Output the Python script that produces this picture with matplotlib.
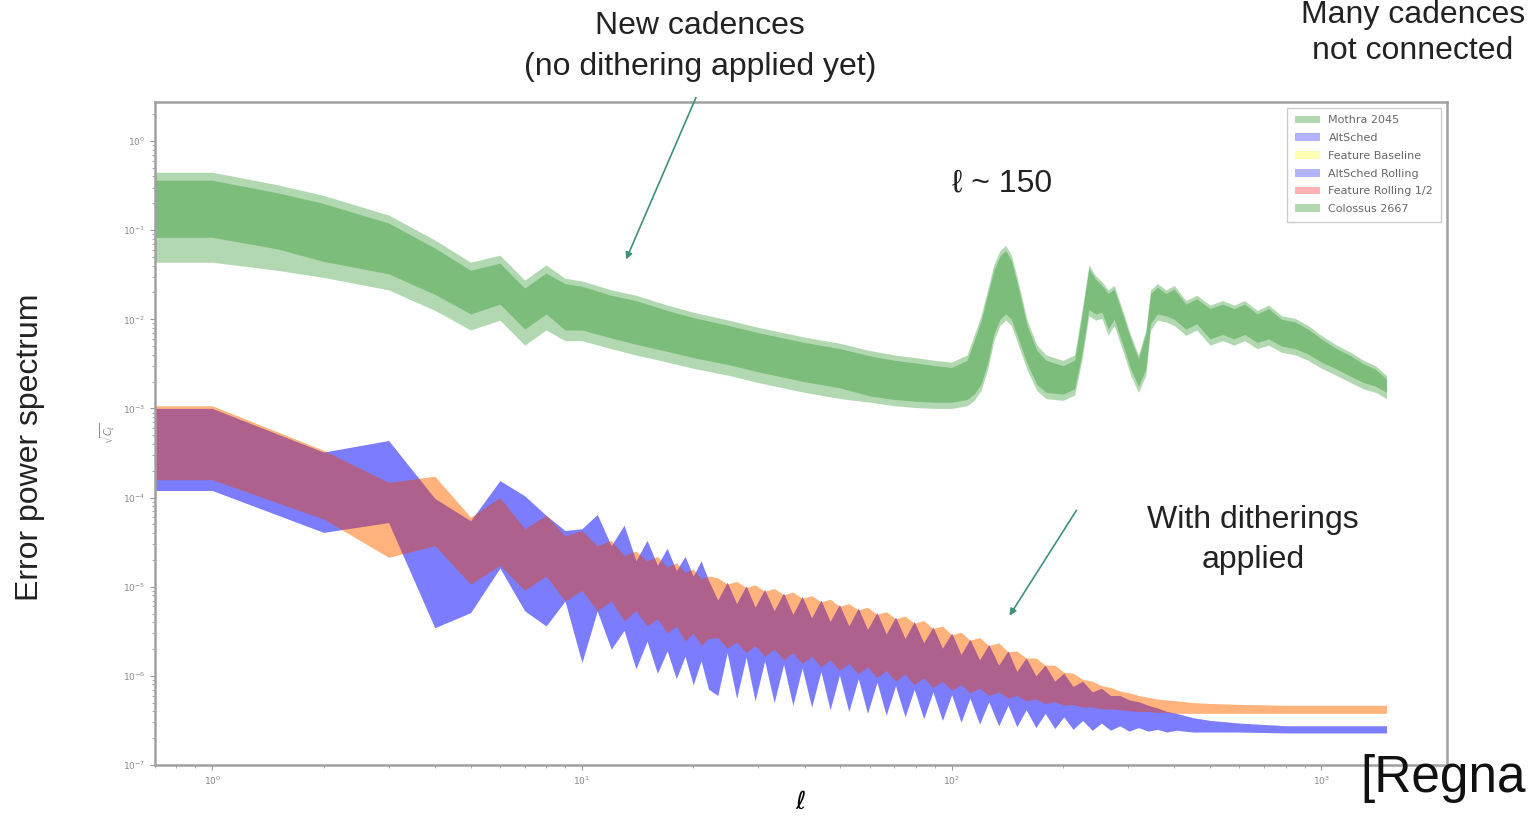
import numpy as np
import matplotlib
matplotlib.use("Agg")
import matplotlib.pyplot as plt
from matplotlib.ticker import LogLocator, NullFormatter

SLIDE_FONT = ["Liberation Sans", "DejaVu Sans"]

# ---- upper (green) bands, values given as log10 of the error ----
ell_g = [0.7, 1, 1.5, 2, 3, 4, 5, 6, 7, 8, 9, 10, 12, 14, 17, 20, 25, 30, 40, 50,
         60, 70, 80, 90, 100, 110, 115, 120, 125, 130, 135, 140, 145, 150, 160, 170, 180, 200, 215, 225,
         235, 245, 255, 265, 275, 290, 305, 320, 335, 345, 360, 380, 400, 430, 460, 500, 540, 580, 620, 670,
         720, 780, 850, 920, 1000, 1100, 1200, 1300, 1400, 1500]

mothra_hi = [-0.35, -0.35, -0.49, -0.61, -0.83, -1.11, -1.36, -1.28, -1.56, -1.39,
             -1.54, -1.57, -1.67, -1.73, -1.84, -1.92, -2.01, -2.09, -2.20, -2.27,
             -2.35, -2.40, -2.43, -2.46, -2.48, -2.40, -2.18, -1.96, -1.67, -1.39,
             -1.23, -1.17, -1.28, -1.51, -2.01, -2.29, -2.40, -2.46, -2.40, -1.90,
             -1.39, -1.51, -1.58, -1.67, -1.62, -1.90, -2.18, -2.40, -2.12, -1.67,
             -1.60, -1.67, -1.62, -1.79, -1.73, -1.84, -1.79, -1.84, -1.79, -1.90,
             -1.84, -1.96, -1.99, -2.07, -2.18, -2.29, -2.37, -2.46, -2.52, -2.63]
mothra_lo = [-1.08, -1.08, -1.21, -1.35, -1.49, -1.72, -1.94, -1.83, -2.11, -1.94,
             -2.12, -2.12, -2.21, -2.28, -2.36, -2.43, -2.51, -2.59, -2.70, -2.77,
             -2.86, -2.90, -2.92, -2.93, -2.93, -2.90, -2.84, -2.73, -2.50, -2.17,
             -2.00, -1.94, -2.00, -2.17, -2.50, -2.73, -2.82, -2.84, -2.78, -2.39,
             -1.89, -1.94, -1.92, -2.11, -2.00, -2.28, -2.56, -2.75, -2.56, -2.05,
             -1.94, -1.96, -2.00, -2.11, -2.05, -2.22, -2.17, -2.22, -2.17, -2.26,
             -2.22, -2.30, -2.33, -2.39, -2.48, -2.56, -2.64, -2.71, -2.75, -2.82]
colossus_hi = [-0.44, -0.44, -0.58, -0.70, -0.92, -1.20, -1.45, -1.37, -1.65, -1.48,
               -1.60, -1.63, -1.73, -1.79, -1.90, -1.98, -2.07, -2.15, -2.26, -2.33,
               -2.41, -2.46, -2.49, -2.52, -2.54, -2.46, -2.24, -2.02, -1.73, -1.45,
               -1.29, -1.23, -1.34, -1.57, -2.07, -2.35, -2.46, -2.52, -2.46, -1.96,
               -1.43, -1.55, -1.62, -1.71, -1.66, -1.94, -2.22, -2.44, -2.16, -1.71,
               -1.64, -1.71, -1.66, -1.83, -1.77, -1.88, -1.83, -1.88, -1.83, -1.94,
               -1.88, -2.00, -2.03, -2.11, -2.22, -2.33, -2.41, -2.50, -2.56, -2.67]
colossus_lo = [-1.36, -1.36, -1.45, -1.53, -1.67, -1.90, -2.12, -2.01, -2.29, -2.12,
               -2.24, -2.24, -2.33, -2.40, -2.48, -2.55, -2.63, -2.71, -2.82, -2.89,
               -2.93, -2.97, -2.99, -3.00, -3.00, -2.97, -2.91, -2.80, -2.57, -2.24,
               -2.07, -2.01, -2.07, -2.24, -2.57, -2.80, -2.89, -2.91, -2.85, -2.46,
               -1.96, -2.01, -1.99, -2.18, -2.07, -2.35, -2.63, -2.82, -2.63, -2.12,
               -2.01, -2.03, -2.07, -2.18, -2.12, -2.29, -2.24, -2.29, -2.24, -2.33,
               -2.29, -2.37, -2.40, -2.46, -2.55, -2.63, -2.71, -2.78, -2.82, -2.89]

# ---- lower bands (dithered cadences), log10 values ----
ell_l = [0.7, 1, 2, 3, 4, 5, 6, 7, 8, 9, 10, 11, 12, 13, 14, 15, 16, 17, 18, 19, 20, 21, 22,
         23.3, 24.7, 26.2, 27.8, 29.4, 31.2, 33.1, 35.1, 37.2, 39.4,
         41.8, 44.3, 46.9, 49.7, 52.7, 55.9, 59.2, 62.8, 66.5, 70.5,
         74.8, 79.2, 84, 89, 94.4, 100, 106, 112, 119, 126,
         134, 142, 150, 159, 169, 179, 190, 201, 213, 226,
         240, 254, 269, 285, 302, 320, 340, 360, 382, 405,
         450, 500, 600, 800, 1000, 1200, 1500]

feat_hi = [-2.97, -2.97, -3.47, -3.83, -3.76, -4.22, -4.00, -4.35, -4.20, -4.43, -4.37, -4.54,
           -4.48, -4.65, -4.60, -4.71, -4.66, -4.78, -4.73, -4.84, -4.80, -4.91, -4.88,
           -4.90, -4.97, -4.94, -5.01, -4.98, -5.05, -5.02, -5.09, -5.06, -5.13,
           -5.10, -5.17, -5.14, -5.22, -5.19, -5.26, -5.23, -5.31, -5.28, -5.36,
           -5.33, -5.41, -5.38, -5.47, -5.44, -5.54, -5.51, -5.60, -5.57, -5.66,
           -5.63, -5.73, -5.72, -5.80, -5.80, -5.88, -5.88, -5.96, -5.97, -6.04,
           -6.06, -6.11, -6.13, -6.17, -6.19, -6.22, -6.24, -6.26, -6.27, -6.28,
           -6.30, -6.31, -6.32, -6.33, -6.33, -6.33, -6.33]
feat_lo = [-3.80, -3.80, -4.24, -4.67, -4.54, -4.97, -4.76, -5.04, -4.88, -5.16, -5.04, -5.27,
           -5.16, -5.38, -5.27, -5.44, -5.36, -5.52, -5.44, -5.61, -5.52, -5.66, -5.58,
           -5.57, -5.69, -5.62, -5.74, -5.66, -5.78, -5.70, -5.82, -5.74, -5.86,
           -5.78, -5.90, -5.82, -5.94, -5.86, -5.98, -5.90, -6.02, -5.94, -6.06,
           -5.98, -6.10, -6.02, -6.13, -6.06, -6.16, -6.10, -6.19, -6.14, -6.22,
           -6.18, -6.25, -6.22, -6.28, -6.26, -6.31, -6.29, -6.33, -6.32, -6.35,
           -6.35, -6.37, -6.37, -6.38, -6.39, -6.40, -6.40, -6.41, -6.41, -6.42,
           -6.42, -6.42, -6.42, -6.42, -6.42, -6.42, -6.42]
alt_hi = [-3.00, -3.00, -3.49, -3.36, -4.01, -4.26, -3.81, -3.98, -4.20, -4.37, -4.35, -4.19,
          -4.54, -4.31, -4.71, -4.48, -4.76, -4.57, -4.82, -4.66, -4.88, -4.71, -4.93,
          -5.15, -4.95, -5.19, -4.99, -5.23, -5.03, -5.27, -5.07, -5.31, -5.11,
          -5.35, -5.15, -5.39, -5.20, -5.44, -5.24, -5.48, -5.29, -5.53, -5.34,
          -5.58, -5.39, -5.63, -5.45, -5.69, -5.52, -5.76, -5.59, -5.82, -5.65,
          -5.88, -5.72, -5.95, -5.80, -6.00, -5.88, -6.06, -5.97, -6.12, -6.06,
          -6.18, -6.14, -6.22, -6.22, -6.27, -6.29, -6.33, -6.36, -6.40, -6.42,
          -6.47, -6.50, -6.53, -6.56, -6.56, -6.56, -6.56]
alt_lo = [-3.92, -3.92, -4.39, -4.28, -5.46, -5.29, -4.79, -5.27, -5.44, -5.16, -5.85, -5.27,
          -5.70, -5.49, -5.92, -5.61, -5.97, -5.72, -6.03, -5.78, -6.10, -5.83, -6.15,
          -6.22, -5.74, -6.25, -5.79, -6.28, -5.83, -6.30, -5.87, -6.33, -5.91,
          -6.35, -5.95, -6.38, -5.99, -6.40, -6.03, -6.42, -6.07, -6.44, -6.11,
          -6.46, -6.15, -6.48, -6.18, -6.50, -6.21, -6.52, -6.25, -6.54, -6.29,
          -6.56, -6.33, -6.57, -6.38, -6.58, -6.42, -6.59, -6.46, -6.60, -6.50,
          -6.61, -6.53, -6.61, -6.56, -6.62, -6.58, -6.62, -6.60, -6.63, -6.61,
          -6.63, -6.63, -6.63, -6.64, -6.64, -6.64, -6.64]

x_ticks = [1, 10, 100, 1000]
y_ticks = [1e-7, 1e-6, 1e-5, 1e-4, 1e-3, 1e-2, 1e-1, 1e0]

fig = plt.figure(figsize=(15.34, 8.16), dpi=100)
ax = fig.add_axes([0.101, 0.0625, 0.842, 0.8125])

p = lambda a: np.power(10.0, np.array(a))

# same order as the legend
ax.fill_between(ell_g, p(mothra_lo), p(mothra_hi), color="green", alpha=0.3, lw=0, label="Mothra 2045")
ax.fill_between(ell_l, p(alt_lo), p(alt_hi), color="blue", alpha=0.3, lw=0, label="AltSched")
ax.fill_between(ell_l, p(feat_lo), p(feat_hi), color="yellow", alpha=0.3, lw=0, label="Feature Baseline")
ax.fill_between(ell_l, p(alt_lo), p(alt_hi), color="blue", alpha=0.3, lw=0, label="AltSched Rolling")
ax.fill_between(ell_l, p(feat_lo), p(feat_hi), color="red", alpha=0.3, lw=0, label="Feature Rolling 1/2")
ax.fill_between(ell_g, p(colossus_lo), p(colossus_hi), color="green", alpha=0.3, lw=0, label="Colossus 2667")

ax.set_xscale("log")
ax.set_yscale("log")
ax.set_xlim(0.7, 2180)
ax.set_ylim(1e-7, 2.74)
ax.set_xticks(x_ticks)
ax.set_yticks(y_ticks)
ax.xaxis.set_minor_locator(LogLocator(base=10, subs=range(2, 10), numticks=20))
ax.yaxis.set_minor_locator(LogLocator(base=10, subs=range(2, 10), numticks=20))
ax.xaxis.set_minor_formatter(NullFormatter())
ax.yaxis.set_minor_formatter(NullFormatter())

ax.tick_params(which="both", labelsize=6.5, labelcolor="#888", color="#999")
for s in ax.spines.values():
    s.set_color("#a0a0a0")
    s.set_linewidth(1.8)

ax.set_xlabel(r"$\ell$", fontsize=18, labelpad=2)
ax.set_ylabel(r"$\sqrt{C_\ell}$", fontsize=7, color="#888")

leg = ax.legend(loc="upper right", fontsize=8, labelspacing=0.7, handlelength=2.2,
                borderpad=0.7, fancybox=False, edgecolor="#cccccc", framealpha=1)
for t in leg.get_texts():
    t.set_color("#666")

# slide annotations
kw = dict(fontfamily=SLIDE_FONT, fontsize=23, color="#222", ha="center", va="center")
fig.text(0.4563, 0.968, "New cadences", **kw)
fig.text(0.4563, 0.918, "(no dithering applied yet)", **kw)
fig.text(0.921, 0.982, "Many cadences", **kw)
fig.text(0.921, 0.938, "not connected", **kw)
fig.text(0.653, 0.775, "\u2113 ~ 150", **kw)
fig.text(0.8168, 0.363, "With ditherings", **kw)
fig.text(0.8168, 0.3137, "applied", **kw)
fig.text(0.0196, 0.452, "Error power spectrum", rotation=90, **kw)
fig.text(0.8866, 0.046, "[Regna", fontfamily=SLIDE_FONT, fontsize=37,
         color="#111", ha="left", va="center")

arrow = dict(arrowstyle="-|>", color="#3f8f7a", lw=1.2, mutation_scale=10)
fig.add_artist(matplotlib.patches.FancyArrowPatch((0.4544, 0.8836), (0.4074, 0.6789),
                                                  transform=fig.transFigure, **arrow))
fig.add_artist(matplotlib.patches.FancyArrowPatch((0.7027, 0.3775), (0.6571, 0.2426),
                                                  transform=fig.transFigure, **arrow))

fig.savefig("out.png", dpi=100)
